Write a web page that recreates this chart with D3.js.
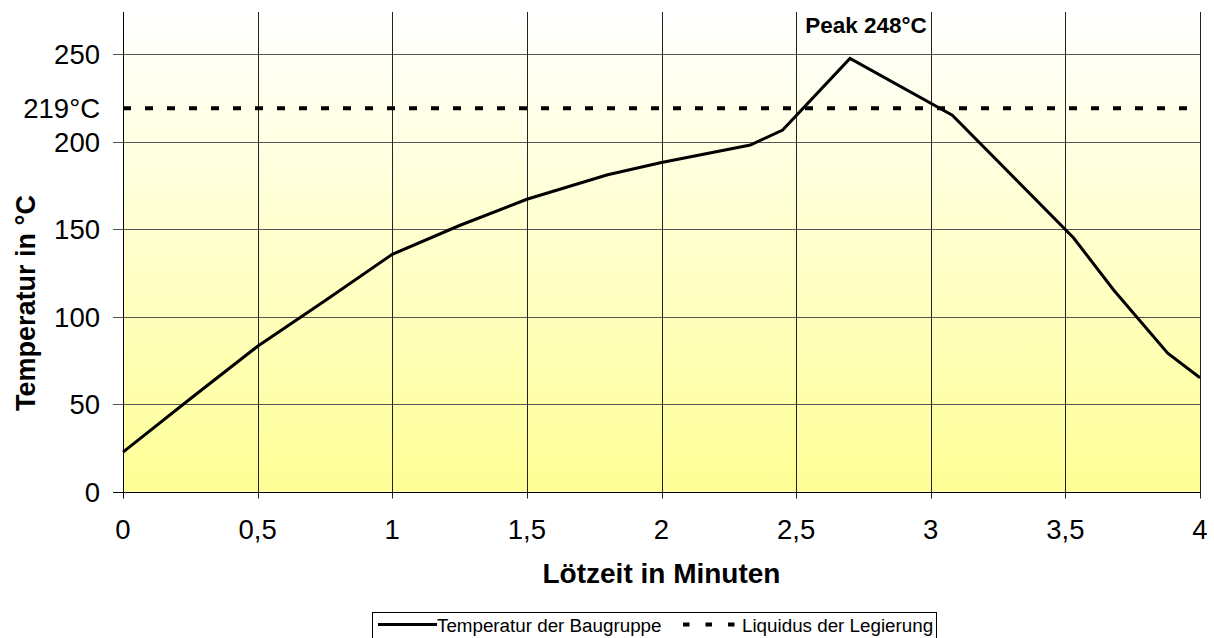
<!DOCTYPE html>
<html>
<head>
<meta charset="utf-8">
<script src="https://cdn.jsdelivr.net/npm/d3@7.9.0/dist/d3.min.js"></script>
<style>
  body { margin: 0; background: #fff; }
  text { font-family: "Liberation Sans", Arial, sans-serif; }
</style>
</head>
<body>
<div id="chart"></div>
<script>
// Zeit in Minuten / Temperatur der Baugruppe in °C
const minutes = [0, 0.25, 0.5, 0.75, 1, 1.25, 1.5, 1.8, 2.0, 2.33, 2.45, 2.7, 3.08, 3.53, 3.68, 3.88, 4];
const temps = [22.5, 53, 83, 109, 135.5, 152, 167, 181, 188, 198, 206.5, 247.5, 215, 145, 115, 79, 65];
const liquidus = 219;
const peak = { t: 2.7, v: 248 };
const xTicks = [0, 0.5, 1, 1.5, 2, 2.5, 3, 3.5, 4];
const yTicks = [0, 50, 100, 150, 200, 250];
const seriesNames = ['Temperatur der Baugruppe', 'Liquidus der Legierung'];

const width = 1214, height = 638;
const plot = { left: 123, right: 1200, top: 12, bottom: 491.5 };

const svg = d3.select('#chart').append('svg')
  .attr('width', width)
  .attr('height', height);

const xScale = d3.scaleLinear().domain([0, 4]).range([plot.left, plot.right]);
const yScale = d3.scaleLinear().domain([0, 274]).range([plot.bottom, plot.top]);

const defs = svg.append('defs');
const grad = defs.append('linearGradient')
  .attr('id', 'bg').attr('x1', 0).attr('y1', 0).attr('x2', 0).attr('y2', 1);
grad.append('stop').attr('offset', '0%').attr('stop-color', '#ffffff');
grad.append('stop').attr('offset', '100%').attr('stop-color', '#ffff96');

svg.append('rect')
  .attr('x', plot.left).attr('y', plot.top)
  .attr('width', plot.right - plot.left)
  .attr('height', plot.bottom - plot.top)
  .attr('fill', 'url(#bg)');

// horizontal gridlines + ticks
svg.append('g').selectAll('line')
  .data(yTicks.filter(d => d > 0))
  .join('line')
  .attr('x1', plot.left - 10).attr('x2', plot.right)
  .attr('y1', d => Math.round(yScale(d)) + 0.5).attr('y2', d => Math.round(yScale(d)) + 0.5)
  .attr('stroke', '#555').attr('stroke-width', 1);

// vertical gridlines + ticks
svg.append('g').selectAll('line')
  .data(xTicks)
  .join('line')
  .attr('x1', d => Math.round(xScale(d)) + 0.5).attr('x2', d => Math.round(xScale(d)) + 0.5)
  .attr('y1', plot.top).attr('y2', plot.bottom + 7)
  .attr('stroke', d => d === 0 ? '#000' : '#222').attr('stroke-width', 1);

// bottom axis line
svg.append('line')
  .attr('x1', plot.left - 10).attr('x2', plot.right + 0.5)
  .attr('y1', Math.round(plot.bottom) + 0.5).attr('y2', Math.round(plot.bottom) + 0.5)
  .attr('stroke', '#000').attr('stroke-width', 1.2);

// tick labels
svg.append('g').selectAll('text')
  .data(yTicks)
  .join('text')
  .attr('x', 100)
  .attr('y', d => yScale(d) + 10)
  .attr('text-anchor', 'end')
  .attr('font-size', 27.5)
  .text(d => d);

svg.append('text')
  .attr('x', 100)
  .attr('y', yScale(liquidus) + 10)
  .attr('text-anchor', 'end')
  .attr('font-size', 27.5)
  .text(liquidus + '°C');

svg.append('g').selectAll('text')
  .data(xTicks)
  .join('text')
  .attr('x', d => xScale(d))
  .attr('y', 539)
  .attr('text-anchor', 'middle')
  .attr('font-size', 27.5)
  .text(d => String(d).replace('.', ','));

// axis titles
svg.append('text')
  .attr('x', xScale(2))
  .attr('y', 583)
  .attr('text-anchor', 'middle')
  .attr('font-size', 28)
  .attr('font-weight', 'bold')
  .text('Lötzeit in Minuten');

svg.append('text')
  .attr('transform', `translate(35, 303) rotate(-90)`)
  .attr('text-anchor', 'middle')
  .attr('font-size', 27)
  .attr('font-weight', 'bold')
  .text('Temperatur in °C');

// liquidus line
svg.append('line')
  .attr('x1', plot.left).attr('x2', plot.right)
  .attr('y1', yScale(liquidus)).attr('y2', yScale(liquidus))
  .attr('stroke', '#000').attr('stroke-width', 4)
  .attr('stroke-dasharray', '8,14');

// temperature curve
const line = d3.line()
  .x((d, i) => xScale(minutes[i]))
  .y(d => yScale(d));

svg.append('path')
  .datum(temps)
  .attr('d', line)
  .attr('fill', 'none')
  .attr('stroke', '#000')
  .attr('stroke-width', 3)
  .attr('stroke-linejoin', 'miter');

// peak label
svg.append('text')
  .attr('x', xScale(peak.t) + 16)
  .attr('y', 33)
  .attr('text-anchor', 'middle')
  .attr('font-size', 22.5)
  .attr('font-weight', 'bold')
  .text(`Peak ${peak.v}°C`);

// legend
const legend = svg.append('g');
legend.append('rect')
  .attr('x', 372.5).attr('y', 612.5)
  .attr('width', 564).attr('height', 30)
  .attr('fill', '#fff').attr('stroke', '#000').attr('stroke-width', 1);

legend.append('line')
  .attr('x1', 378).attr('x2', 437).attr('y1', 624.5).attr('y2', 624.5)
  .attr('stroke', '#000').attr('stroke-width', 3);
legend.append('text')
  .attr('x', 437).attr('y', 631.5)
  .attr('font-size', 18.8)
  .text(seriesNames[0]);

legend.append('line')
  .attr('x1', 683).attr('x2', 736).attr('y1', 624.5).attr('y2', 624.5)
  .attr('stroke', '#000').attr('stroke-width', 4)
  .attr('stroke-dasharray', '6.5,16');
legend.append('text')
  .attr('x', 742).attr('y', 631.5)
  .attr('font-size', 18.8)
  .text(seriesNames[1]);
</script>
</body>
</html>
